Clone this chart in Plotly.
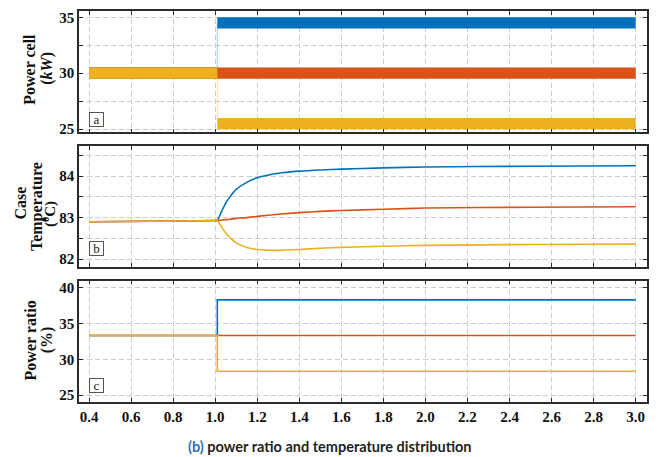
import plotly.graph_objects as go
from plotly.subplots import make_subplots

# ---------------- data ----------------
# (a) power per cell: ripple band upper/lower bounds (kW)
t_power = [0.40, 1.01, 1.01, 3.00]
p_blue_hi = [30.5, 30.5, 35.0, 35.0]
p_blue_lo = [29.5, 29.5, 34.0, 34.0]
p_orange_hi = [30.5, 30.5, 30.5, 30.5]
p_orange_lo = [29.5, 29.5, 29.5, 29.5]
p_yellow_hi = [30.5, 30.5, 26.0, 26.0]
p_yellow_lo = [29.5, 29.5, 25.0, 25.0]

# (b) case temperature (degC)
t_temp = [0.40, 0.70, 1.00, 1.01, 1.03, 1.05, 1.07, 1.10, 1.15, 1.20, 1.30,
          1.40, 1.50, 1.60, 1.80, 2.00, 2.50, 3.00]
temp_blue = [82.90, 82.91, 82.93, 82.93, 83.15, 83.35, 83.50, 83.68, 83.85, 83.96,
             84.07, 84.12, 84.15, 84.17, 84.20, 84.22, 84.24, 84.25]
temp_orange = [82.90, 82.91, 82.93, 82.93, 82.94, 82.95, 82.96, 82.98, 83.00, 83.03,
               83.08, 83.12, 83.15, 83.17, 83.20, 83.23, 83.25, 83.26]
temp_yellow = [82.90, 82.91, 82.93, 82.93, 82.77, 82.63, 82.52, 82.39, 82.28, 82.23,
               82.21, 82.23, 82.26, 82.28, 82.31, 82.33, 82.35, 82.36]

# (c) power ratio (%)
t_ratio = [0.40, 1.01, 1.01, 3.00]
ratio_blue = [33.33, 33.33, 38.33, 38.33]
ratio_orange = [33.33, 33.33, 33.33, 33.33]
ratio_yellow = [33.33, 33.33, 28.33, 28.33]

x_ticks = [0.4, 0.6, 0.8, 1.0, 1.2, 1.4, 1.6, 1.8, 2.0, 2.2, 2.4, 2.6, 2.8, 3.0]
ya_ticks = [25, 30, 35]
ya_minor = [27.5, 32.5]
yb_ticks = [82, 83, 84]
yb_minor = [82.5, 83.5, 84.5]
yc_ticks = [25, 30, 35, 40]

BLUE = "#0072BD"
ORANGE = "#D95319"
YELLOW = "#EDB120"

# ---------------- figure ----------------
fig = make_subplots(rows=3, cols=1, shared_xaxes=True, vertical_spacing=0.03)


def band(t, hi, lo, color, row):
    fig.add_trace(go.Scatter(x=t + t[::-1], y=hi + lo[::-1], mode="lines",
                             fill="toself", fillcolor=color,
                             line=dict(width=0, color=color),
                             hoverinfo="skip", showlegend=False), row=row, col=1)


def transition(t, hi, lo, color, row):
    mid = [(h + l) / 2 for h, l in zip(hi, lo)]
    fig.add_trace(go.Scatter(x=[t[1], t[2]], y=[mid[1], mid[2]], mode="lines",
                             line=dict(width=1, color=color), opacity=0.35,
                             hoverinfo="skip", showlegend=False), row=row, col=1)


transition(t_power, p_blue_hi, p_blue_lo, BLUE, 1)
transition(t_power, p_yellow_hi, p_yellow_lo, YELLOW, 1)
band(t_power, p_blue_hi, p_blue_lo, BLUE, 1)
band(t_power, p_orange_hi, p_orange_lo, ORANGE, 1)
band(t_power, p_yellow_hi, p_yellow_lo, YELLOW, 1)

for ys, c in [(temp_blue, BLUE), (temp_orange, ORANGE), (temp_yellow, YELLOW)]:
    fig.add_trace(go.Scatter(x=t_temp, y=ys, mode="lines",
                             line=dict(color=c, width=1.6, shape="spline", smoothing=0.6),
                             showlegend=False), row=2, col=1)

for ys, c in [(ratio_blue, BLUE), (ratio_orange, ORANGE), (ratio_yellow, YELLOW)]:
    fig.add_trace(go.Scatter(x=t_ratio, y=ys, mode="lines", line=dict(color=c, width=1.6),
                             showlegend=False), row=3, col=1)

GRIDC = "#cccccc"
DASH = "5px,3px"
TICKFONT = dict(family="Liberation Serif", size=15, color="#111111", weight="bold")
axis_common = dict(showline=True, linecolor="#2b2b2b", linewidth=1.5, mirror="ticks",
                   ticks="inside", ticklen=4, tickwidth=1, tickcolor="#2b2b2b",
                   showgrid=True, gridcolor=GRIDC, gridwidth=1, griddash=DASH,
                   zeroline=False, tickfont=TICKFONT)


def minor(vals):
    return dict(tickvals=vals, ticks="inside", ticklen=4, tickwidth=1, tickcolor="#2b2b2b",
                showgrid=True, gridcolor=GRIDC, gridwidth=1, griddash=DASH)


for i in (1, 2, 3):
    fig.update_xaxes(range=[0.352, 3.054], tickvals=x_ticks,
                     ticktext=["%.1f" % v for v in x_ticks], row=i, col=1, **axis_common)

fig.update_yaxes(range=[24.71, 35.56], tickvals=ya_ticks, minor=minor(ya_minor),
                 row=1, col=1, **axis_common)
fig.update_yaxes(range=[81.815, 84.72], tickvals=yb_ticks, minor=minor(yb_minor),
                 row=2, col=1, **axis_common)
fig.update_yaxes(range=[24.03, 41.02], tickvals=yc_ticks,
                 row=3, col=1, **axis_common)

L, R, T, B = 79, 10, 9, 55
W, H = 658, 457
PW, PH = W - L - R, H - T - B


def py(px):  # pixel y -> paper y
    return (H - B - px) / PH


def pxx(px):  # pixel x -> paper x
    return (px - L) / PW


fig.update_layout(
    width=W, height=H, margin=dict(l=L, r=R, t=T, b=B),
    paper_bgcolor="white", plot_bgcolor="white",
    yaxis=dict(domain=[py(131), py(9)]),
    yaxis2=dict(domain=[py(266), py(145)]),
    yaxis3=dict(domain=[py(402), py(280)]),
)

TITLEFONT = dict(family="Liberation Serif", size=16, color="#111111")
ann = []


def vtext(text, xpx, ypx, size=16):
    ann.append(dict(text=text, x=pxx(xpx), y=py(ypx), xref="paper", yref="paper",
                    textangle=-90, showarrow=False, xanchor="center", yanchor="middle",
                    font=dict(TITLEFONT, size=size)))


vtext("<b>Power cell</b>", 30, 68)
vtext("<b>(<i>kW</i>)</b>", 47, 67)
vtext("<b>Case</b>", 19.5, 202)
vtext("<b>Temperature</b>", 37, 206)
vtext("<b>(<sup>0</sup>C)</b>", 50, 213, 15)
vtext("<b>Power ratio</b>", 30, 340)
vtext("<b>(%)</b>", 47, 340)

for lab, ypx in [("a", 118), ("b", 248), ("c", 385.5)]:
    ann.append(dict(text=lab, x=pxx(96.5), y=py(ypx), xref="paper", yref="paper",
                    showarrow=False, xanchor="center", yanchor="middle",
                    font=dict(family="Liberation Serif", size=13, color="#222222"),
                    bgcolor="white", bordercolor="#555555", borderwidth=1, borderpad=1,
                    width=11, height=11))

ann.append(dict(text='<b><span style="color:#1f75bb">(b)</span> power ratio and temperature distribution</b>',
                x=pxx(330), y=py(447), xref="paper", yref="paper", showarrow=False,
                xanchor="center", yanchor="middle",
                font=dict(family="Lato", size=14.5, color="#231f20")))

fig.update_layout(annotations=ann)

fig.write_html("out.html", config={"displayModeBar": False},
               post_script="document.body.style.margin='0px';")
